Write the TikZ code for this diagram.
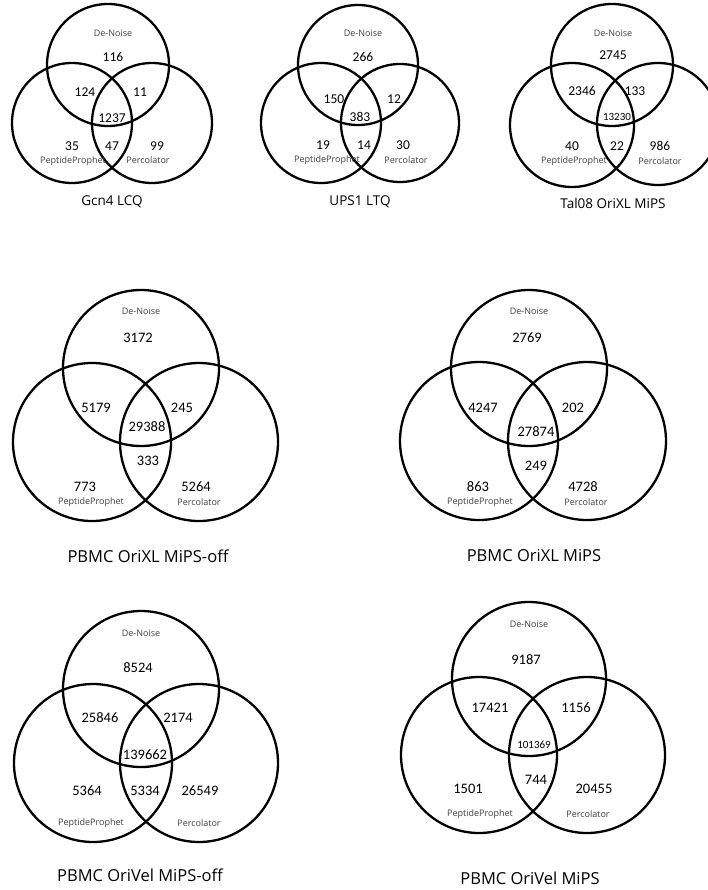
\documentclass[tikz,border=0pt]{standalone}
\usepackage{fontspec}
\setmainfont{Carlito}
\newfontfamily\ttlfont{Open Sans}
\newfontfamily\lblfont{Open Sans}
\usetikzlibrary{positioning}
\tikzset{
    ring/.style={draw=black, line width=2.3pt},
    cnt/.style={inner sep=0pt, font=\fontsize{13.5}{13.5}\selectfont},
    bigcnt/.style={inner sep=0pt, font=\fontsize{14.5}{14.5}\selectfont},
    tinycnt/.style={inner sep=0pt, font=\fontsize{11}{11}\selectfont},
    setlbl/.style={inner sep=0pt, text=black!75, font=\lblfont\fontsize{9}{9}\selectfont},
    vtitle/.style={inner sep=0pt, font=\ttlfont\fontsize{13.5}{13.5}\selectfont},
    bigtitle/.style={inner sep=0pt, font=\ttlfont\fontsize{16.5}{16.5}\selectfont}
}
\begin{document}
\begin{tikzpicture}[x=1pt, y=-1pt]
  \useasboundingbox[fill=white] (0,0) rectangle (708,890);
  \clip (0,0) rectangle (708,890);

  % Gcn4 LCQ
  \draw[ring] (108,65) circle[radius=61];
  \draw[ring] (72,123) circle[radius=60];
  \draw[ring] (152,123) circle[radius=60];
  \node[setlbl] (a-dn) at (113,33) {De-Noise};
  \node[cnt] (a-d) at (113,57) {116};
  \node[cnt] (a-dp) at (85,92) {124};
  \node[cnt] (a-dc) at (140,92) {11};
  \node[cnt] (a-all) at (112,118) {1237};
  \node[cnt] (a-p) at (72,146) {35};
  \node[cnt] (a-pc) at (112,146) {47};
  \node[cnt] (a-c) at (157,146) {99};
  \node[setlbl] (a-pp) at (73,161) {PeptideProphet};
  \node[setlbl] (a-pl) at (148,160) {Percolator};
  \node[vtitle] (a-t) at (112,202) {Gcn4 LCQ};

  % UPS1 LTQ
  \draw[ring] (358,65) circle[radius=60];
  \draw[ring] (321,123) circle[radius=60];
  \draw[ring] (400,123) circle[radius=59];
  \node[setlbl] (b-dn) at (363,33) {De-Noise};
  \node[cnt] (b-d) at (363,57) {266};
  \node[cnt] (b-dp) at (334,99) {150};
  \node[cnt] (b-dc) at (394,99) {12};
  \node[cnt] (b-all) at (360,117) {383};
  \node[cnt] (b-p) at (323,145) {19};
  \node[cnt] (b-pc) at (364,145) {14};
  \node[cnt] (b-c) at (403,145) {30};
  \node[setlbl] (b-pp) at (327,160) {PeptideProphet};
  \node[setlbl] (b-pl) at (406,160) {Percolator};
  \node[vtitle] (b-t) at (360,202) {UPS1 LTQ};

  % Tal08 OriXL MiPS
  \draw[ring] (612,65) circle[radius=61];
  \draw[ring] (572,125) circle[radius=62];
  \draw[ring] (658,124) circle[radius=61];
  \node[setlbl] (c-dn) at (613,33) {De-Noise};
  \node[cnt] (c-d) at (613,55) {2745};
  \node[cnt] (c-dp) at (582,91) {2346};
  \node[cnt] (c-dc) at (635,91) {133};
  \node[tinycnt] (c-all) at (617,117) {13230};
  \node[cnt] (c-p) at (572,146) {40};
  \node[cnt] (c-pc) at (617,146) {22};
  \node[cnt] (c-c) at (660,146) {986};
  \node[setlbl] (c-pp) at (574,161) {PeptideProphet};
  \node[setlbl] (c-pl) at (660,161) {Percolator};
  \node[vtitle] (c-t) at (613,203) {Tal08 OriXL MiPS};

  % PBMC OriXL MiPS-off
  \draw[ring] (141,368) circle[radius=78];
  \draw[ring] (92,442) circle[radius=79];
  \draw[ring] (199,442) circle[radius=79];
  \node[setlbl] (d-dn) at (141,311) {De-Noise};
  \node[bigcnt] (d-d) at (138,338) {3172};
  \node[bigcnt] (d-dp) at (96,408) {5179};
  \node[bigcnt] (d-dc) at (182,408) {245};
  \node[bigcnt] (d-all) at (147,427) {29388};
  \node[bigcnt] (d-pc) at (148,461) {333};
  \node[bigcnt] (d-p) at (85,487) {773};
  \node[bigcnt] (d-c) at (196,487) {5264};
  \node[setlbl] (d-pp) at (91,502) {PeptideProphet};
  \node[setlbl] (d-pl) at (199,502) {Percolator};
  \node[bigtitle] (d-t) at (148,556) {PBMC OriXL MiPS-off};

  % PBMC OriXL MiPS
  \draw[ring] (529,368) circle[radius=78];
  \draw[ring] (479,441) circle[radius=79];
  \draw[ring] (587,441) circle[radius=79];
  \node[setlbl] (e-dn) at (529,311) {De-Noise};
  \node[bigcnt] (e-d) at (527,338) {2769};
  \node[bigcnt] (e-dp) at (483,408) {4247};
  \node[bigcnt] (e-dc) at (573,408) {202};
  \node[bigcnt] (e-all) at (536,432) {27874};
  \node[bigcnt] (e-pc) at (536,466) {249};
  \node[bigcnt] (e-p) at (478,487) {863};
  \node[bigcnt] (e-c) at (583,487) {4728};
  \node[setlbl] (e-pp) at (480,502) {PeptideProphet};
  \node[setlbl] (e-pl) at (586,502) {Percolator};
  \node[bigtitle] (e-t) at (534,556) {PBMC OriXL MiPS};

  % PBMC OriVel MiPS-off
  \draw[ring] (141,689) circle[radius=78];
  \draw[ring] (93,763) circle[radius=79];
  \draw[ring] (199,763) circle[radius=79];
  \node[setlbl] (f-dn) at (141,633) {De-Noise};
  \node[bigcnt] (f-d) at (138,668) {8524};
  \node[bigcnt] (f-dp) at (100,718) {25846};
  \node[bigcnt] (f-dc) at (178,718) {2174};
  \node[bigcnt] (f-all) at (145,755) {139662};
  \node[bigcnt] (f-p) at (87,791) {5364};
  \node[bigcnt] (f-pc) at (145,791) {5334};
  \node[bigcnt] (f-c) at (200,791) {26549};
  \node[setlbl] (f-pp) at (91,823) {PeptideProphet};
  \node[setlbl] (f-pl) at (199,823) {Percolator};
  \node[bigtitle] (f-t) at (140,875) {PBMC OriVel MiPS-off};

  % PBMC OriVel MiPS
  \draw[ring] (529,679) circle[radius=77];
  \draw[ring] (479,755) circle[radius=78];
  \draw[ring] (587,755) circle[radius=78];
  \node[setlbl] (g-dn) at (529,624) {De-Noise};
  \node[bigcnt] (g-d) at (526,660) {9187};
  \node[bigcnt] (g-dp) at (490,708) {17421};
  \node[bigcnt] (g-dc) at (576,708) {1156};
  \node[tinycnt] (g-all) at (534,745) {101369};
  \node[bigcnt] (g-pc) at (536,780) {744};
  \node[bigcnt] (g-p) at (468,789) {1501};
  \node[bigcnt] (g-c) at (594,789) {20455};
  \node[setlbl] (g-pp) at (480,814) {PeptideProphet};
  \node[setlbl] (g-pl) at (588,814) {Percolator};
  \node[bigtitle] (g-t) at (530,878) {PBMC OriVel MiPS};
\end{tikzpicture}
\end{document}
